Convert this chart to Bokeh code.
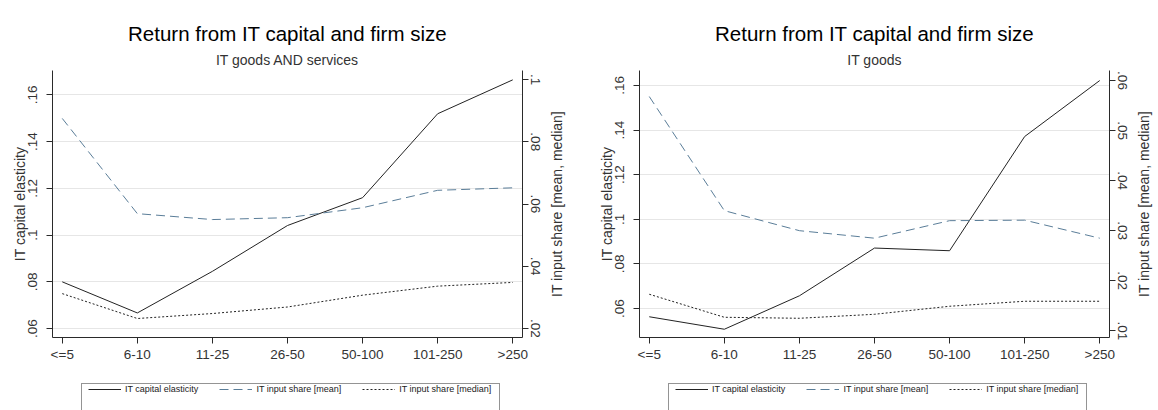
import math
import numpy as np
from bokeh.plotting import figure
from bokeh.models import Range1d, LinearAxis, FixedTicker, Title, Legend, LegendItem
from bokeh.layouts import row, column
from bokeh.embed import file_html
from bokeh.resources import INLINE

categories = ["<=5", "6-10", "11-25", "26-50", "50-100", "101-250", ">250"]

# Panel 1: IT goods AND services
p1_subtitle = "IT goods AND services"
p1_elasticity = [0.0800, 0.0667, 0.0845, 0.1041, 0.1160, 0.1519, 0.1664]
p1_share_mean = [0.0875, 0.0569, 0.0550, 0.0556, 0.0588, 0.0644, 0.0652]
p1_share_median = [0.0312, 0.0232, 0.0248, 0.0269, 0.0307, 0.0336, 0.0348]
p1_left_ticks = [0.06, 0.08, 0.10, 0.12, 0.14, 0.16]
p1_left_labels = [".06", ".08", ".1", ".12", ".14", ".16"]
p1_right_ticks = [0.02, 0.04, 0.06, 0.08, 0.10]
p1_right_labels = [".02", ".04", ".06", ".08", ".1"]

# Panel 2: IT goods
p2_subtitle = "IT goods"
p2_elasticity = [0.0563, 0.0507, 0.0657, 0.0871, 0.0859, 0.1371, 0.1622]
p2_share_mean = [0.0568, 0.0340, 0.0300, 0.0285, 0.0320, 0.0321, 0.0285]
p2_share_median = [0.0173, 0.0127, 0.0125, 0.0133, 0.0149, 0.0159, 0.0159]
p2_left_ticks = [0.06, 0.08, 0.10, 0.12, 0.14, 0.16]
p2_left_labels = [".06", ".08", ".1", ".12", ".14", ".16"]
p2_right_ticks = [0.01, 0.02, 0.03, 0.04, 0.05, 0.06]
p2_right_labels = [".01", ".02", ".03", ".04", ".05", ".06"]

title_text = "Return from IT capital and firm size"
left_axis_title = "IT capital elasticity"
right_axis_title = "IT input share [mean, median]"
legend_labels = ["IT capital elasticity", "IT input share [mean]", "IT input share [median]"]

FONT = "Liberation Sans"
AXIS_COLOR = "#2a2a2a"
TEXT_COLOR = "#333333"
MEAN_COLOR = "#5a7d98"
PLOT_H = 375
LEG_H = 35
FRAME_TOP = 70
FRAME_BOTTOM = 337

STYLES = [dict(line_color="#222222", line_width=1),
          dict(line_color=MEAN_COLOR, line_width=1, line_dash="9 5"),
          dict(line_color="#222222", line_width=1, line_dash="2 2")]


def style_axis(ax, ticks, labels, vertical):
    ax.ticker = FixedTicker(ticks=ticks)
    ax.major_label_overrides = {t: l for t, l in zip(ticks, labels)}
    ax.major_tick_out = 6
    ax.major_tick_in = 0
    ax.minor_tick_out = 0
    ax.minor_tick_in = 0
    ax.axis_line_color = AXIS_COLOR
    ax.major_tick_line_color = AXIS_COLOR
    ax.major_label_text_font = FONT
    ax.major_label_text_font_size = "13.5px"
    ax.major_label_text_color = TEXT_COLOR
    ax.axis_label_text_font = FONT
    ax.axis_label_text_font_size = "14px"
    ax.axis_label_text_font_style = "normal"
    ax.axis_label_text_color = TEXT_COLOR
    if vertical:
        ax.major_label_orientation = "vertical"


def make_panel(subtitle, elast, mean, median, lticks, llabels, lrange,
               rticks, rlabels, rrange, width, border_left, border_right):
    p = figure(width=width, height=PLOT_H, title=None,
               x_range=Range1d(-0.13, 6.13), y_range=Range1d(*lrange),
               output_backend="svg", toolbar_location=None,
               min_border_left=border_left, min_border_right=border_right,
               min_border_top=FRAME_TOP, min_border_bottom=PLOT_H - FRAME_BOTTOM,
               outline_line_color=None, background_fill_color="white",
               border_fill_color="white")
    p.extra_y_ranges = {"share": Range1d(*rrange)}

    x = list(range(len(categories)))

    xa = p.xaxis[0]
    style_axis(xa, x, categories, False)
    xa.major_label_standoff = 3

    la = p.yaxis[0]
    style_axis(la, lticks, llabels, True)
    la.axis_label = left_axis_title
    la.major_label_standoff = 9
    la.axis_label_standoff = -2

    ra = LinearAxis(y_range_name="share")
    style_axis(ra, rticks, rlabels, True)
    ra.major_label_standoff = 2
    p.add_layout(ra, "right")

    p.xgrid.visible = False
    p.ygrid.ticker = FixedTicker(ticks=lticks)
    p.ygrid.grid_line_color = "#e6e6e6"
    p.ygrid.grid_line_width = 1

    p.line(x, elast, **STYLES[0])
    p.line(x, mean, y_range_name="share", **STYLES[1])
    p.line(x, median, y_range_name="share", **STYLES[2])

    sub = Title(text=subtitle, align="center", text_font=FONT,
                text_font_size="14px", text_font_style="normal",
                text_color=TEXT_COLOR, standoff=6)
    p.add_layout(sub, "above")
    main = Title(text=title_text, align="center", text_font=FONT,
                 text_font_size="20.5px", text_font_style="normal",
                 text_color="black", standoff=3)
    p.add_layout(main, "above")
    return p


def make_right_title_fig(width):
    # thin strip holding the title of the right-hand axis (reads bottom-to-top)
    f = figure(width=width, height=PLOT_H, title=None, x_range=Range1d(0, 1),
               y_range=Range1d(0, 1), x_axis_type=None, y_axis_type=None,
               output_backend="svg", toolbar_location=None,
               min_border_left=0, min_border_right=0,
               min_border_top=FRAME_TOP, min_border_bottom=PLOT_H - FRAME_BOTTOM,
               outline_line_color=None, background_fill_color="white",
               border_fill_color="white")
    f.xgrid.visible = False
    f.ygrid.visible = False
    t = Title(text=right_axis_title, align="center", text_font=FONT,
              text_font_size="14px", text_font_style="normal",
              text_color=TEXT_COLOR, standoff=0, offset=0)
    f.add_layout(t, "left")
    return f


def make_legend_fig(width, box_left):
    f = figure(width=width, height=LEG_H, x_range=Range1d(0, 1),
               y_range=Range1d(0, 1), x_axis_type=None, y_axis_type=None,
               output_backend="svg", toolbar_location=None,
               min_border_left=0, min_border_right=0, min_border_top=0,
               min_border_bottom=0, outline_line_color=None,
               background_fill_color="white", border_fill_color="white")
    f.xgrid.visible = False
    f.ygrid.visible = False
    # frame of the legend (tall box, its lower part falls outside the picture)
    rb = f.line([np.nan], [np.nan], line_alpha=0)
    box = Legend(items=[LegendItem(label=" ", renderers=[rb])],
                 location=(box_left, LEG_H - 70), padding=0, margin=0,
                 glyph_width=397, glyph_height=60, label_height=60,
                 label_width=20, label_standoff=0, label_text_font_size="9px",
                 border_line_color=AXIS_COLOR, border_line_width=1,
                 background_fill_color="white", background_fill_alpha=1)
    f.add_layout(box, "center")
    rs = [f.line([np.nan], [np.nan], **st) for st in STYLES]
    items = [LegendItem(label=lab, renderers=[r]) for lab, r in zip(legend_labels, rs)]
    leg = Legend(items=items, orientation="horizontal",
                 location=(box_left + 4, LEG_H - 22), padding=3, spacing=21,
                 margin=0, glyph_width=33, glyph_height=6, label_height=6,
                 label_standoff=4, label_text_font=FONT,
                 label_text_font_size="9px", label_text_color="#222222",
                 border_line_alpha=0, background_fill_alpha=0)
    f.add_layout(leg, "center")
    return f


p1 = make_panel(p1_subtitle, p1_elasticity, p1_share_mean, p1_share_median,
                p1_left_ticks, p1_left_labels, (0.0562, 0.1704),
                p1_right_ticks, p1_right_labels, (0.0171, 0.1029),
                546, 52, 24)
t1 = make_right_title_fig(20)
p2 = make_panel(p2_subtitle, p2_elasticity, p2_share_mean, p2_share_median,
                p2_left_ticks, p2_left_labels, (0.0470, 0.1667),
                p2_right_ticks, p2_right_labels, (0.00866, 0.0620),
                567, 73, 24)
t2 = make_right_title_fig(20)
l1 = make_legend_fig(566, 81)
l2 = make_legend_fig(592, 102)

layout = column(row(p1, t1, p2, t2), row(l1, l2))
html = file_html(layout, INLINE)
html = html.replace("<head>", "<head><style>html,body{overflow:hidden;}</style>", 1)
open("out.html", "w").write(html)
